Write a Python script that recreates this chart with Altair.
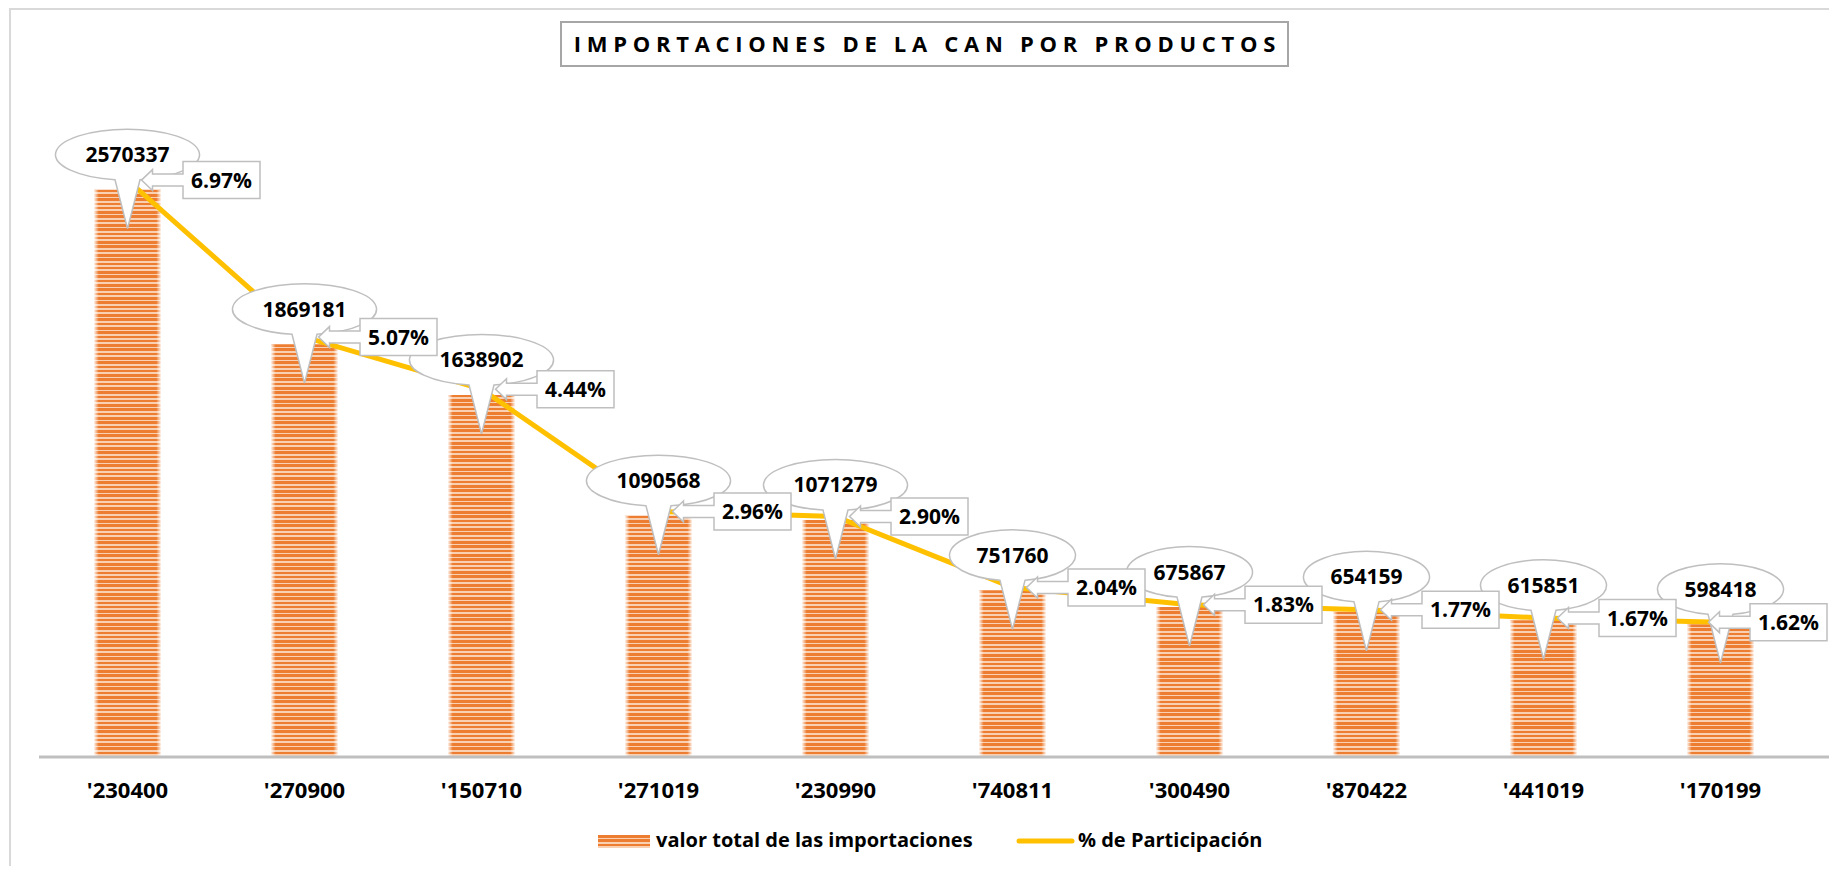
import math
import altair as alt
import pandas as pd

# ---------------- data ----------------
codes = ["'230400", "'270900", "'150710", "'271019", "'230990",
         "'740811", "'300490", "'870422", "'441019", "'170199"]
values = [2570337, 1869181, 1638902, 1090568, 1071279,
          751760, 675867, 654159, 615851, 598418]
pct = [6.97, 5.07, 4.44, 2.96, 2.90, 2.04, 1.83, 1.77, 1.67, 1.62]

title_text = "IMPORTACIONES DE LA CAN POR PRODUCTOS"
legend_bar = "valor total de las importaciones"
legend_line = "% de Participación"

# ---------------- layout / style ----------------
W, H = 1770, 661
VMAX = 3000000
PMAX = 8
FONT = "Open Sans"
DARK, LIGHT = "#ED7D31", "#FAD0B2"
LINE_C = "#FFC000"
GRAY = "#BFBFBF"
STEP = W / len(codes)
RIGHT_LIMIT = 1788          # right edge available for the last percentage label
RECT_DX = 94                # rect callout centre offset from its point

df = pd.DataFrame({"code": codes, "value": values, "pct": pct})
df["vlabel"] = df["value"].astype(str)
df["plabel"] = df["pct"].map(lambda p: f"{p:.2f}%")


def ellipse_path(label):
    rx = 72 if len(label) >= 7 else 63
    ry, cy, bx = 25.5, -35, 12.5
    yb = cy + ry * math.sqrt(1 - (bx / rx) ** 2)
    return (f"M {-bx} {yb:.2f} L 0 39 L {bx} {yb:.2f} "
            f"A {rx} {ry} 0 1 0 {-bx} {yb:.2f} Z")


def rect_path(s):
    def f(v):
        return f"{v + s:.1f}"
    return (f"M {f(55.5)} -18.5 H {f(132.5)} V 18.5 H {f(55.5)} V 6 H {f(25)} V 10.5 "
            f"L {f(14)} 0 L {f(25)} -10.5 V -6 H {f(55.5)} Z")


# keep the percentage callouts inside the chart (shift left when needed)
centers = [STEP * (i + 0.5) for i in range(len(codes))]
shifts = [min(0, round(RIGHT_LIMIT - (c + RECT_DX + 38.5))) for c in centers]
df["shift"] = shifts
df["ell"] = df["vlabel"].map(ellipse_path)
df["rpath"] = df["shift"].map(rect_path)


def stripes(n, frac=0.6):
    stops = []
    for k in range(n):
        a, b, c = k / n, (k + frac) / n, (k + 1) / n
        stops += [{"offset": round(a, 5), "color": DARK},
                  {"offset": round(b, 5), "color": DARK},
                  {"offset": round(b, 5), "color": LIGHT},
                  {"offset": round(c, 5), "color": LIGHT}]
    return {"gradient": "linear", "x1": 0, "y1": 0, "x2": 0, "y2": 1,
            "stops": stops}


EDGE = {"gradient": "linear", "x1": 0, "y1": 0, "x2": 1, "y2": 0,
        "stops": [{"offset": 0, "color": "rgba(255,255,255,0.9)"},
                  {"offset": 0.07, "color": "rgba(255,255,255,0)"},
                  {"offset": 0.93, "color": "rgba(255,255,255,0)"},
                  {"offset": 1, "color": "rgba(255,255,255,0.9)"}]}

X = alt.X("code:N",
          scale=alt.Scale(domain=codes, paddingInner=0.6215, paddingOuter=0.31075),
          axis=alt.Axis(title=None, domain=False, ticks=False, tickSize=0, grid=False,
                        labelAngle=0, labelFont=FONT, labelFontWeight="bold",
                        labelFontSize=22, labelColor="black", labelPadding=41,
                        labelBaseline="alphabetic"))
YV = alt.Y("value:Q", scale=alt.Scale(domain=[0, VMAX]), axis=None)
YP = alt.Y("pct:Q", scale=alt.Scale(domain=[0, PMAX]), axis=None)

base = alt.Chart(df)
layers = []

# bars, each with its own stripe gradient (stripe pitch ~4.3px)
for i, c in enumerate(codes):
    n = max(1, round(values[i] / VMAX * H / 4.3))
    layers.append(
        base.transform_filter(alt.FieldEqualPredicate(field="code", equal=c))
        .mark_bar(color=stripes(n))
        .encode(x=X, y=YV)
    )
layers.append(base.mark_bar(color=EDGE).encode(x=X, y=YV))

# baseline
dec = alt.Data(values=[{"a": 1}])
layers.append(alt.Chart(dec).mark_rule(color=GRAY, strokeWidth=3).encode(
    x=alt.value(0), x2=alt.value(1795), y=alt.value(662)))

# line
layers.append(base.mark_line(color=LINE_C, strokeWidth=5).encode(x=X, y=YP))

# ellipse callouts for values
layers.append(base.mark_point(filled=True, fill="white", stroke=GRAY, strokeWidth=1.5,
                              size=4, opacity=1).encode(
    x=X, y=YV, shape=alt.Shape("ell:N", scale=None, legend=None)))
layers.append(base.mark_text(font=FONT, fontWeight="bold", fontSize=21, color="black",
                             baseline="alphabetic", align="center", dy=-27.5).encode(
    x=X, y=YV, text="vlabel:N"))

# rectangle callouts for percentages
layers.append(base.mark_point(filled=True, fill="white", stroke=GRAY,
                              strokeWidth=1.5, size=4, opacity=1).encode(
    x=X, y=YP, shape=alt.Shape("rpath:N", scale=None, legend=None)))
for s in sorted(set(shifts)):
    layers.append(
        base.transform_filter(alt.FieldEqualPredicate(field="shift", equal=s))
        .mark_text(font=FONT, fontWeight="bold", fontSize=21, color="black",
                   baseline="alphabetic", align="center", dx=RECT_DX + s, dy=7.5)
        .encode(x=X, y=YP, text="plabel:N"))

# title box
NB = "\u00a0"
spaced_title = (NB * 3).join(NB.join(w) for w in title_text.split(" "))
layers.append(alt.Chart(dec).mark_rect(fill="white", stroke="#A6A6A6", strokeWidth=2).encode(
    x=alt.value(522), x2=alt.value(1249), y=alt.value(-73), y2=alt.value(-29)))
layers.append(alt.Chart(dec).mark_text(text=spaced_title, font=FONT, fontWeight="bold",
                                       fontSize=22, color="black", align="center",
                                       baseline="alphabetic").encode(
    x=alt.value(885.5), y=alt.value(-43)))

# legend
layers.append(alt.Chart(dec).mark_rect(color=stripes(3)).encode(
    x=alt.value(559), x2=alt.value(611), y=alt.value(740), y2=alt.value(753)))
layers.append(alt.Chart(dec).mark_text(text=legend_bar, font=FONT, fontWeight="bold",
                                       fontSize=20, color="black", align="left",
                                       baseline="alphabetic").encode(
    x=alt.value(617), y=alt.value(752)))
layers.append(alt.Chart(dec).mark_rule(color=LINE_C, strokeWidth=5, strokeCap="round").encode(
    x=alt.value(980), x2=alt.value(1033), y=alt.value(746)))
layers.append(alt.Chart(dec).mark_text(text=legend_line, font=FONT, fontWeight="bold",
                                       fontSize=20, color="black", align="left",
                                       baseline="alphabetic").encode(
    x=alt.value(1039), y=alt.value(752)))

# outer chart border
layers.append(alt.Chart(dec).mark_rect(fillOpacity=0, stroke="#D9D9D9", strokeWidth=2).encode(
    x=alt.value(-29), x2=alt.value(1820), y=alt.value(-86), y2=alt.value(830)))

chart = (alt.layer(*layers)
         .resolve_scale(y="independent")
         .properties(width=W, height=H,
                     autosize=alt.AutoSizeParams(type="none"),
                     padding={"left": 31, "top": 87, "right": 20, "bottom": 110})
         .configure_view(stroke=None))

chart.save("out.html", embed_options={"renderer": "svg", "actions": False})
